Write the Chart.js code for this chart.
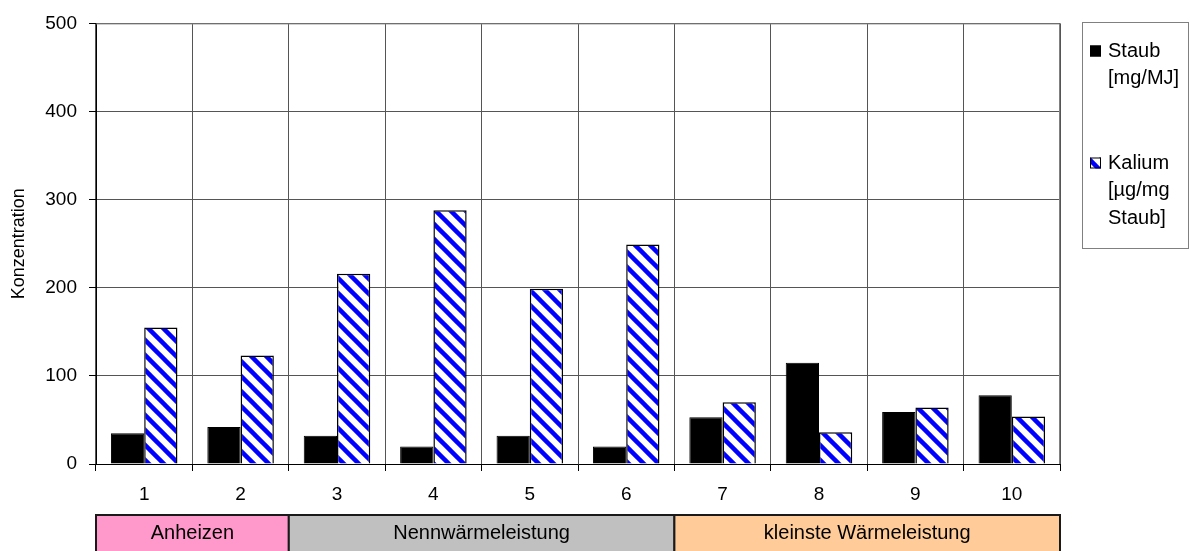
<!DOCTYPE html>
<html>
<head>
<meta charset="utf-8">
<script src="https://cdn.jsdelivr.net/npm/chart.js@4.4.1/dist/chart.umd.min.js"></script>
<style>
  html, body { margin: 0; padding: 0; background: #fff; }
  #wrap { width: 1190px; height: 551px; }
</style>
</head>
<body>
<div id="wrap"><canvas id="chart" width="1190" height="551"></canvas></div>
<script>
// ── Data ──
const categories  = ['1', '2', '3', '4', '5', '6', '7', '8', '9', '10'];
const staubValues = [35, 42, 32, 20, 32, 20, 53, 115, 59, 78];
const kaliumValues = [155, 123, 216, 288, 199, 249, 70, 36, 64, 54];
const seriesNames = ['Staub [mg/MJ]', 'Kalium [µg/mg Staub]'];
const legendLines = [['Staub', '[mg/MJ]'], ['Kalium', '[µg/mg', 'Staub]']];
const yTicks      = [0, 100, 200, 300, 400, 500];

// phase bands under the axis (category index from / to)
const phaseLabels = ['Anheizen', 'Nennwärmeleistung', 'kleinste Wärmeleistung'];
const phaseFrom   = [0, 2, 6];
const phaseTo     = [1, 5, 9];
const phaseColors = ['#ff99cc', '#c0c0c0', '#ffcc99'];

const FONT = '"Liberation Sans", Arial, sans-serif';

// blue diagonal hatch
function makeHatch() {
    const s = 15;
    const c = document.createElement('canvas');
    c.width = s; c.height = s;
    const g = c.getContext('2d');
    g.fillStyle = '#fff';
    g.fillRect(0, 0, s, s);
    g.strokeStyle = '#0000ff';
    g.lineWidth = 4.5;
    for (let k = -1; k <= 1; k++) {
        g.beginPath();
        g.moveTo(k * s - 2, -2);
        g.lineTo(k * s + s + 2, s + 2);
        g.stroke();
    }
    return g.createPattern(c, 'repeat');
}

const hatch = makeHatch();

// ── Phase bands + legend ──
const extrasPlugin = {
    id: 'extras',
    afterDraw(chart) {
        const ctx = chart.ctx;
        const x = chart.scales.x;
        const half = (x.getPixelForValue(1) - x.getPixelForValue(0)) / 2;

        ctx.save();
        // bands
        const top = 515, bot = 553;
        phaseLabels.forEach((lbl, i) => {
            const x0 = x.getPixelForValue(phaseFrom[i]) - half;
            const x1 = x.getPixelForValue(phaseTo[i]) + half;
            ctx.fillStyle = phaseColors[i];
            ctx.fillRect(x0, top, x1 - x0, bot - top);
            ctx.strokeStyle = '#1a1a1a';
            ctx.lineWidth = 2;
            ctx.strokeRect(x0, top, x1 - x0, bot - top);
            ctx.fillStyle = '#000';
            ctx.font = '20px ' + FONT;
            ctx.textAlign = 'center';
            ctx.textBaseline = 'middle';
            ctx.fillText(lbl, (x0 + x1) / 2, 533);
        });

        // legend
        const lx = 1082, ly = 22, lw = 106, lh = 226;
        ctx.fillStyle = '#fff';
        ctx.fillRect(lx, ly, lw, lh);
        ctx.strokeStyle = '#808080';
        ctx.lineWidth = 1;
        ctx.strokeRect(lx + 0.5, ly + 0.5, lw, lh);

        const itemY = [51, 163];
        const fills = ['#000', hatch];
        ctx.font = '20px ' + FONT;
        ctx.textAlign = 'left';
        ctx.textBaseline = 'middle';
        legendLines.forEach((lines, i) => {
            ctx.fillStyle = fills[i];
            ctx.fillRect(lx + 8, itemY[i] - 5.5, 11, 11);
            ctx.strokeStyle = '#000';
            ctx.strokeRect(lx + 8.5, itemY[i] - 5, 10, 10);
            ctx.fillStyle = '#000';
            lines.forEach((t, j) => ctx.fillText(t, lx + 26, itemY[i] + j * 27.5));
        });
        ctx.restore();
    }
};

new Chart(document.getElementById('chart'), {
    type: 'bar',
    data: {
        labels: categories,
        datasets: [
            {
                label: seriesNames[0],
                data: staubValues,
                backgroundColor: '#000',
                borderColor: '#000',
                borderWidth: 1,
                categoryPercentage: 0.69,
                barPercentage: 1
            },
            {
                label: seriesNames[1],
                data: kaliumValues,
                backgroundColor: hatch,
                borderColor: '#000',
                borderWidth: 1.5,
                categoryPercentage: 0.69,
                barPercentage: 1
            }
        ]
    },
    options: {
        responsive: false,
        animation: false,
        layout: { padding: { top: 22, right: 130, bottom: 36, left: 0 } },
        plugins: {
            legend: { display: false },
            tooltip: { enabled: false }
        },
        scales: {
            x: {
                grid: { color: '#555', tickColor: '#000', tickLength: 7, offset: true },
                border: { color: '#000' },
                ticks: { color: '#000', font: { family: FONT, size: 19 }, padding: 12 },
                afterFit: s => { s.height = 51; }
            },
            y: {
                min: 0, max: 500,
                afterBuildTicks: s => { s.ticks = yTicks.map(v => ({ value: v })); },
                grid: { color: '#555', tickColor: '#000', tickLength: 7 },
                border: { color: '#000' },
                ticks: { color: '#000', font: { family: FONT, size: 19 }, padding: 12 },
                title: {
                    display: true, text: 'Konzentration', color: '#000',
                    font: { family: FONT, size: 18 }, padding: { top: 8, bottom: 0 }
                },
                afterFit: s => { s.width = 96; }
            }
        }
    },
    plugins: [extrasPlugin, {
        id: 'frame',
        afterDatasetsDraw(chart) {
            const a = chart.chartArea, ctx = chart.ctx;
            ctx.save();
            ctx.strokeStyle = '#808080';
            ctx.lineWidth = 1;
            ctx.beginPath();
            ctx.moveTo(a.left, a.top + 0.5);
            ctx.lineTo(a.right - 0.5, a.top + 0.5);
            ctx.lineTo(a.right - 0.5, a.bottom);
            ctx.stroke();
            ctx.restore();
        }
    }]
});
</script>
</body>
</html>
